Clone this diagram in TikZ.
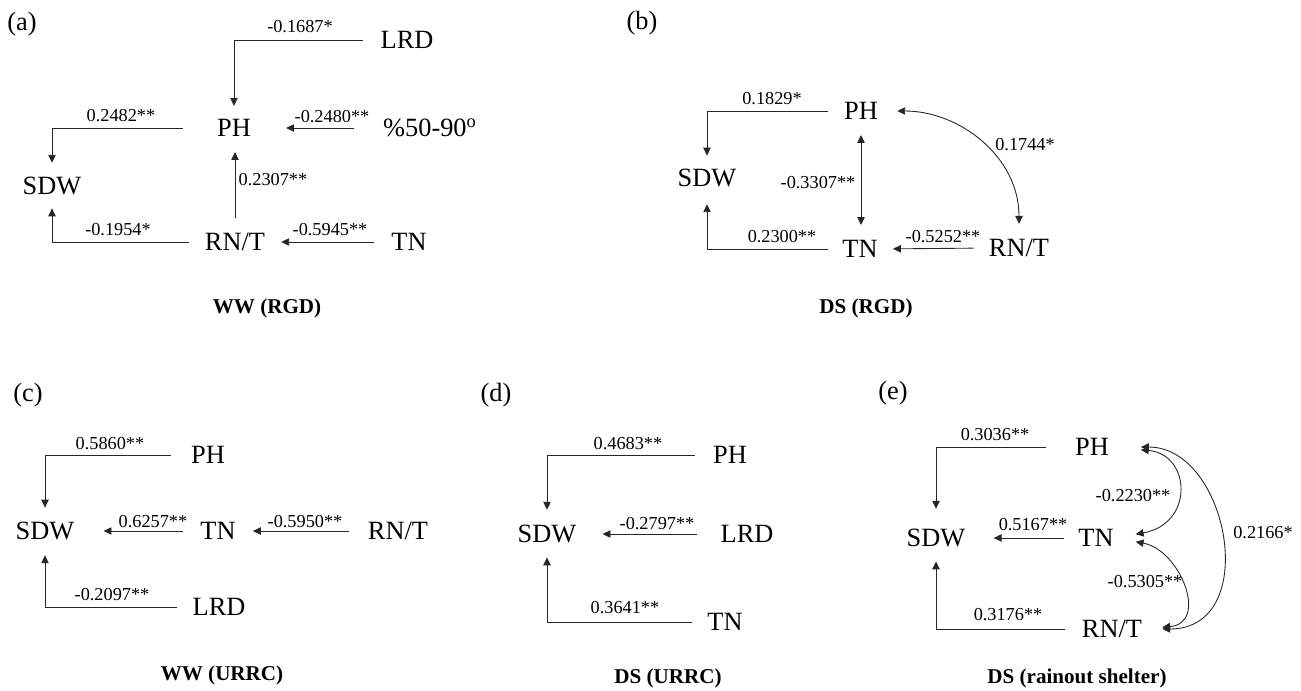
\documentclass[tikz,border=0pt]{standalone}
\usepackage{fontspec}
\setmainfont{Liberation Serif}
\usetikzlibrary{positioning, arrows.meta}

\begin{document}
\begin{tikzpicture}[x=0.02cm, y=0.02cm, line width=0.5pt, draw=black!85,
    >={Triangle[length=4.5pt,width=4.2pt]},
    var/.style={inner sep=0pt, font=\fontsize{15}{18}\selectfont},
    coef/.style={inner sep=0pt, font=\fontsize{10.4}{12}\selectfont},
    plabel/.style={inner sep=0pt, font=\fontsize{15}{18}\selectfont},
    paneltitle/.style={inner sep=0pt, font=\fontsize{12}{14}\selectfont\bfseries}]
    \useasboundingbox (0,0) rectangle (1301,-690);

    % (a) WW (RGD)
    \node[plabel] (la) at (22,-24) {(a)};
    \node[var] (aLRD) at (407,-40) {LRD};
    \node[var] (aPH) at (234,-128) {PH};
    \node[var] (aPct) at (430,-128) {\%50-90\textsuperscript{o}};
    \node[var] (aSDW) at (52,-186) {SDW};
    \node[var] (aRNT) at (235,-242) {RN/T};
    \node[var] (aTN) at (409,-242) {TN};
    \node[paneltitle] (aTitle) at (267,-308) {WW (RGD)};

    \draw[->, shorten <=9.6pt, shorten >=7.4pt] (aLRD.west) -| (aPH.north);
    \draw[->, shorten <=19.3pt, shorten >=7.9pt] (aPH.west) -| (aSDW.north);
    \draw[->, shorten <=16.4pt, shorten >=19.8pt] (aPct.west) -- (aPH.east);
    \draw[->, shorten <=8.5pt, shorten >=8.5pt] (aRNT.north) -- (aRNT.north |- aPH.south);
    \draw[->, shorten <=9pt, shorten >=7.4pt] (aRNT.west) -| (aSDW.south);
    \draw[->, shorten <=9.6pt, shorten >=9pt] (aTN.west) -- (aRNT.east);

    \node[coef] (aC1) at (300,-27) {-0.1687*};
    \node[coef] (aC2) at (121,-116) {0.2482**};
    \node[coef] (aC3) at (332,-117) {-0.2480**};
    \node[coef] (aC4) at (273,-180) {0.2307**};
    \node[coef] (aC5) at (118,-230) {-0.1954*};
    \node[coef] (aC6) at (330,-230) {-0.5945**};

    % (b) DS (RGD)
    \node[plabel] (lb) at (642,-23) {(b)};
    \node[var] (bPH) at (861,-111) {PH};
    \node[var] (bSDW) at (707,-178) {SDW};
    \node[var] (bTN) at (860,-249) {TN};
    \node[var] (bRNT) at (1019,-248) {RN/T};
    \node[paneltitle] (bTitle) at (866,-308) {DS (RGD)};

    \draw[->, shorten <=9pt, shorten >=7.4pt] (bPH.west) -| (bSDW.north);
    \draw[<->, shorten <=8.5pt, shorten >=8.5pt] (bPH.south) -- (bPH.south |- bTN.north);
    \draw[->, shorten <=8pt, shorten >=9.6pt] (bTN.west) -| (bSDW.south);
    \draw[->, shorten <=8.5pt, shorten >=8.5pt] (bRNT.west) -- (bTN.east);
    \draw[<->, shorten <=10.8pt, shorten >=8.5pt] (bPH.east) to[out=0, in=90, looseness=1.1] (bRNT.north);

    \node[coef] (bC1) at (772,-99) {0.1829*};
    \node[coef] (bC2) at (1025,-145) {0.1744*};
    \node[coef] (bC3) at (818,-183) {-0.3307**};
    \node[coef] (bC4) at (782,-237) {0.2300**};
    \node[coef] (bC5) at (943,-237) {-0.5252**};

    % (c) WW (URRC)
    \node[plabel] (lc) at (28,-395) {(c)};
    \node[var] (cPH) at (208,-455) {PH};
    \node[var] (cSDW) at (45,-531) {SDW};
    \node[var] (cTN) at (218,-531) {TN};
    \node[var] (cRNT) at (398,-531) {RN/T};
    \node[var] (cLRD) at (219,-607) {LRD};
    \node[paneltitle] (cTitle) at (222,-675) {WW (URRC)};

    \draw[->, shorten <=11.3pt, shorten >=8pt] (cPH.west) -| (cSDW.north);
    \draw[->, shorten <=9.6pt, shorten >=16.4pt] (cTN.west) -- (cSDW.east);
    \draw[->, shorten <=10.8pt, shorten >=9.6pt] (cRNT.west) -- (cTN.east);
    \draw[->, shorten <=8.5pt, shorten >=8.5pt] (cLRD.west) -| (cSDW.south);

    \node[coef] (cC1) at (110,-444) {0.5860**};
    \node[coef] (cC2) at (153,-522) {0.6257**};
    \node[coef] (cC3) at (305,-522) {-0.5950**};
    \node[coef] (cC4) at (112,-595) {-0.2097**};

    % (d) DS (URRC)
    \node[plabel] (ld) at (496,-395) {(d)};
    \node[var] (dPH) at (730,-455) {PH};
    \node[var] (dSDW) at (547,-534) {SDW};
    \node[var] (dLRD) at (747,-534) {LRD};
    \node[var] (dTN) at (725,-622) {TN};
    \node[paneltitle] (dTitle) at (668,-678) {DS (URRC)};

    \draw[->, shorten <=10.2pt, shorten >=8.5pt] (dPH.west) -| (dSDW.north);
    \draw[->, shorten <=13pt, shorten >=14.7pt] (dLRD.west) -- (dSDW.east);
    \draw[->, shorten <=8.5pt, shorten >=8pt] (dTN.west) -| (dSDW.south);

    \node[coef] (dC1) at (628,-444) {0.4683**};
    \node[coef] (dC2) at (657,-524) {-0.2797**};
    \node[coef] (dC3) at (625,-608) {0.3641**};

    % (e) DS (rainout shelter)
    \node[plabel] (le) at (893,-393) {(e)};
    \node[var] (ePH) at (1092,-447) {PH};
    \node[var] (eSDW) at (936,-538) {SDW};
    \node[var] (eTN) at (1096,-538) {TN};
    \node[var] (eRNT) at (1112,-629) {RN/T};
    \node[paneltitle] (eTitle) at (1077,-678) {DS (rainout shelter)};

    \draw[->, shorten <=16.4pt, shorten >=11.3pt] (ePH.west) -| (eSDW.north);
    \draw[->, shorten <=8pt, shorten >=15.9pt] (eTN.west) -- (eSDW.east);
    \draw[->, shorten <=9.6pt, shorten >=8pt] (eRNT.west) -| (eSDW.south);
    \draw[<->, shorten <=18pt, shorten >=12.5pt] (ePH.east) to[out=-5, in=10, looseness=2.3] (eTN.east);
    \draw[<->, shorten <=12.5pt, shorten >=11.3pt] (eTN.east) to[out=-10, in=5, looseness=1.8] (eRNT.east);
    \draw[<->, shorten <=18pt, shorten >=11.3pt] (ePH.east) to[out=0, in=0, looseness=1.65] (eRNT.east);

    \node[coef] (eC1) at (995,-435) {0.3036**};
    \node[coef] (eC2) at (1033,-525) {0.5167**};
    \node[coef] (eC3) at (1133,-496) {-0.2230**};
    \node[coef] (eC4) at (1145,-582) {-0.5305**};
    \node[coef] (eC5) at (1263,-533) {0.2166*};
    \node[coef] (eC6) at (1008,-615) {0.3176**};
\end{tikzpicture}
\end{document}
